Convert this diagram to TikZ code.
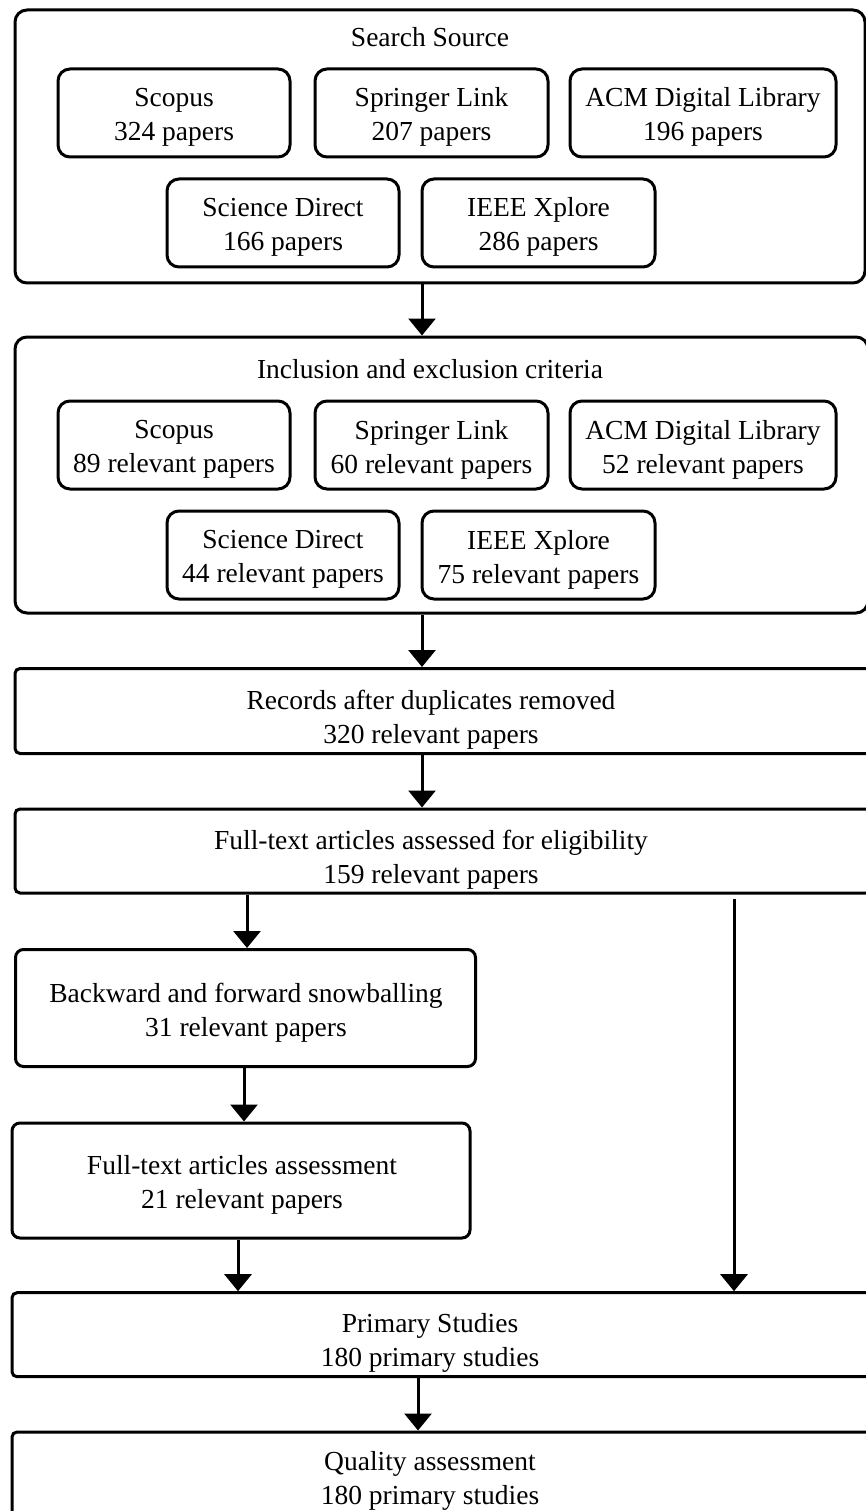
\documentclass[tikz,border=0pt]{standalone}
\usepackage{fontspec}
\setmainfont{Liberation Serif}
\usetikzlibrary{arrows.meta}
\begin{document}
\begin{tikzpicture}[x=1pt,y=-1pt,
  txt/.style={inner sep=0pt, align=center, font=\fontsize{27.5}{34}\selectfont},
  outerbox/.style={draw, line width=3pt, rounded corners=12pt, inner sep=0pt},
  srcbox/.style={draw, line width=3pt, rounded corners=12pt, inner sep=0pt, minimum height=88pt},
  stagebox/.style={draw, line width=3pt, rounded corners=5pt, inner sep=0pt},
  sidebox/.style={draw, line width=3pt, rounded corners=8pt, inner sep=0pt},
  arr/.style={line width=3pt, -{Triangle[width=27pt,length=17pt]}}
]
\useasboundingbox (0,0) rectangle (866,1511);
\clip (0,0) rectangle (866,1511);

% Search source
\node[outerbox, minimum width=850pt, minimum height=273pt] (ss) at (440,146.5) {};
\node[txt] (sst) at (430,37) {Search Source};
\node[srcbox, minimum width=232pt] (sc1) at (174,113) {};
\node[txt] (sc1t) at (174,117) {Scopus\\324 papers};
\node[srcbox, minimum width=233pt] (sp1) at (431.5,113) {};
\node[txt] (sp1t) at (431.5,117) {Springer Link\\207 papers};
\node[srcbox, minimum width=266pt] (ac1) at (703,113) {};
\node[txt] (ac1t) at (703,117) {ACM Digital Library\\196 papers};
\node[srcbox, minimum width=232pt] (sd1) at (283,223) {};
\node[txt] (sd1t) at (283,227) {Science Direct\\166 papers};
\node[srcbox, minimum width=233pt] (ie1) at (538.5,223) {};
\node[txt] (ie1t) at (538.5,227) {IEEE Xplore\\286 papers};

% Inclusion / exclusion
\node[outerbox, minimum width=853pt, minimum height=276pt] (ic) at (441.5,475) {};
\node[txt] (ict) at (430,369) {Inclusion and exclusion criteria};
\node[srcbox, minimum width=232pt] (sc2) at (174,445) {};
\node[txt] (sc2t) at (174,449.5) {Scopus\\89 relevant papers};
\node[srcbox, minimum width=233pt] (sp2) at (431.5,445) {};
\node[txt] (sp2t) at (431.5,449.5) {Springer Link\\60 relevant papers};
\node[srcbox, minimum width=266pt] (ac2) at (703,445) {};
\node[txt] (ac2t) at (703,449.5) {ACM Digital Library\\52 relevant papers};
\node[srcbox, minimum width=232pt] (sd2) at (283,555) {};
\node[txt] (sd2t) at (283,559.5) {Science Direct\\44 relevant papers};
\node[srcbox, minimum width=233pt] (ie2) at (538.5,555) {};
\node[txt] (ie2t) at (538.5,559.5) {IEEE Xplore\\75 relevant papers};

% Records after duplicates removed
\node[stagebox, minimum width=870pt, minimum height=85pt] (rd) at (450,711) {};
\node[txt] (rdt) at (431,720) {Records after duplicates removed\\320 relevant papers};

% Full-text eligibility
\node[stagebox, minimum width=870pt, minimum height=84pt] (fa) at (450,851) {};
\node[txt] (fat) at (431,859.5) {Full-text articles assessed for eligibility\\159 relevant papers};

% Snowballing
\node[sidebox, minimum width=460pt, minimum height=117pt] (bf) at (245.5,1008) {};
\node[txt] (bft) at (246,1012.5) {Backward and forward snowballing\\31 relevant papers};

% Full-text assessment
\node[sidebox, minimum width=458pt, minimum height=115pt] (ft) at (241,1180.5) {};
\node[txt] (ftt) at (242,1184.5) {Full-text articles assessment\\21 relevant papers};

% Primary studies
\node[stagebox, minimum width=870pt, minimum height=84pt] (ps) at (447,1334.7) {};
\node[txt] (pst) at (430,1343) {Primary Studies\\180 primary studies};

% Quality assessment
\node[stagebox, minimum width=870pt, minimum height=110pt] (qa) at (447,1487) {};
\node[txt] (qat) at (430,1481) {Quality assessment\\180 primary studies};

% connectors
\draw[arr] (ss.south -| 422,0) -- (ic.north -| 422,0);
\draw[arr] (ic.south -| 422,0) -- (rd.north -| 422,0);
\draw[arr] (rd.south -| 422,0) -- (fa.north -| 422,0);
\draw[arr] (fa.south -| 247,0) -- (bf.north -| 247,0);
\coordinate (bypass) at (734,899);
\draw[arr] (bypass) -- (ps.north -| bypass);
\draw[arr] (bf.south -| 244,0) -- (ft.north -| 244,0);
\draw[arr] (ft.south -| 238,0) -- (ps.north -| 238,0);
\draw[arr] (ps.south -| 418,0) -- (qa.north -| 418,0);
\end{tikzpicture}
\end{document}
